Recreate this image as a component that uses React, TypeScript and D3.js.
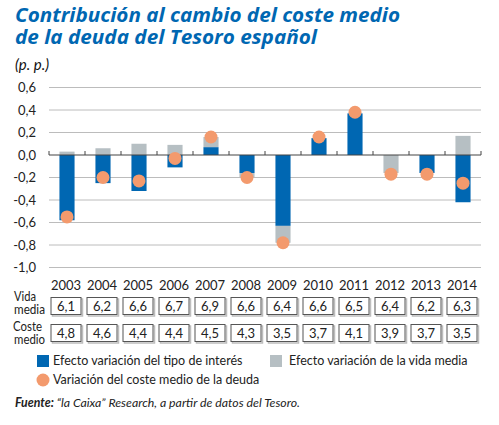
import React from "react";
import * as d3 from "d3";

const years = ["2003","2004","2005","2006","2007","2008","2009","2010","2011","2012","2013","2014"];
const interestEffect = [-0.58, -0.25, -0.32, -0.11, 0.07, -0.16, -0.63, 0.15, 0.37, 0.0, -0.16, -0.42];
const lifeEffect = [0.03, 0.06, 0.10, 0.09, 0.09, -0.04, -0.15, 0.0, 0.0, -0.16, 0.0, 0.17];
const costChange = [-0.55, -0.20, -0.23, -0.03, 0.16, -0.20, -0.78, 0.16, 0.38, -0.17, -0.17, -0.25];
const vidaMedia = ["6,1","6,2","6,6","6,7","6,9","6,6","6,4","6,6","6,5","6,4","6,2","6,3"];
const costeMedio = ["4,8","4,6","4,4","4,4","4,5","4,3","3,5","3,7","4,1","3,9","3,7","3,5"];
const yTicks = [0.6, 0.4, 0.2, 0, -0.2, -0.4, -0.6, -0.8, -1.0];

const BLUE = "#0067b2";
const GRAY = "#b6bfc3";
const ORANGE = "#f39a6d";
const FONT = "Lato, 'Open Sans', sans-serif";

export default function App() {
  const W = 499, H = 425;
  const x = d3.scaleBand<string>().domain(years).range([49, 481]).paddingInner(0.58).paddingOuter(0.29);
  const xb = d3.scaleBand<string>().domain(years).range([49, 481]).padding(0);
  const y = d3.scaleLinear().domain([-1.0, 0.6]).range([267.5, 87.5]);

  const table = years.map((yr, i) => ({ year: yr, interest: interestEffect[i], life: lifeEffect[i] }));
  const stack = d3.stack<any>().keys(["interest", "life"]).offset(d3.stackOffsetDiverging);
  const series = stack(table);
  const colors: Record<string, string> = { interest: BLUE, life: GRAY };
  const fmt = (v: number) => (v === 0 ? "0,0" : d3.format(".1f")(v).replace(".", ",").replace("−", "-"));
  const cx = (yr: string) => (x(yr) as number) + x.bandwidth() / 2;

  return (
    <svg width={W} height={H} style={{ position: "absolute", left: 0, top: 0, background: "#fff" }} fontFamily={FONT}>
      <text x={15} y={22} fill={BLUE} fontWeight="bold" fontStyle="italic" fontSize={19.5} fontFamily="'Open Sans', sans-serif" textLength={385} lengthAdjust="spacingAndGlyphs">Contribución al cambio del coste medio</text>
      <text x={15} y={44} fill={BLUE} fontWeight="bold" fontStyle="italic" fontSize={19.5} fontFamily="'Open Sans', sans-serif" textLength={302} lengthAdjust="spacingAndGlyphs">de la deuda del Tesoro español</text>
      <text x={15} y={70} fill="#111" fontStyle="italic" fontSize={15}>(p. p.)</text>

      {yTicks.map((t) => (
        <g key={t}>
          {t !== 0 && <line x1={49} x2={481} y1={y(t)} y2={y(t)} stroke="#bcbcbc" strokeWidth={1} />}
          <text x={36} y={y(t)} dy="0.35em" textAnchor="end" fontSize={13} fill="#222">{fmt(t)}</text>
        </g>
      ))}

      {series.map((s) => (
        <g key={s.key} fill={colors[s.key]}>
          {s.map((d, i) => {
            const y0 = y(d[0]), y1 = y(d[1]);
            const h = Math.abs(y1 - y0);
            if (h < 0.1) return null;
            return <rect key={i} x={x(years[i])} width={x.bandwidth()} y={Math.min(y0, y1)} height={h} />;
          })}
        </g>
      ))}

      <line x1={49} x2={481} y1={y(0)} y2={y(0)} stroke="#444" strokeWidth={1.2} />
      {years.concat(["end"]).map((yr, i) => {
        const xx = 49 + i * xb.step();
        return <line key={yr} x1={xx} x2={xx} y1={y(0)} y2={y(0) - 4} stroke="#444" strokeWidth={1} />;
      })}

      {costChange.map((v, i) => (
        <circle key={i} cx={cx(years[i])} cy={y(v)} r={6.5} fill={ORANGE} />
      ))}

      {years.map((yr) => (
        <text key={yr} x={cx(yr) - 1} y={290} textAnchor="middle" fontSize={13} fill="#222">{yr}</text>
      ))}

      <text x={14} y={301} fontSize={12.5} fill="#222" textLength={22} lengthAdjust="spacingAndGlyphs">Vida</text>
      <text x={14} y={314} fontSize={12.5} fill="#222" textLength={31} lengthAdjust="spacingAndGlyphs">media</text>
      <text x={13} y={331} fontSize={12.5} fill="#222" textLength={29} lengthAdjust="spacingAndGlyphs">Coste</text>
      <text x={14} y={344} fontSize={12.5} fill="#222" textLength={31} lengthAdjust="spacingAndGlyphs">medio</text>

      {[{ vals: vidaMedia, top: 297.5 }, { vals: costeMedio, top: 324.5 }].map((row, ri) => (
        <g key={ri}>
          {row.vals.map((v, i) => {
            const c = cx(years[i]) - 1;
            return (
              <g key={i}>
                <rect x={c - 15 + 1.5} y={row.top + 1.5} width={30} height={17} fill="none" stroke="#bdbdbd" strokeWidth={1.5} />
                <rect x={c - 15} y={row.top} width={30} height={17} fill="#fff" stroke="#555" strokeWidth={1} />
                <text x={c} y={row.top + 8.5} dy="0.35em" textAnchor="middle" fontSize={13} fill="#222">{v}</text>
              </g>
            );
          })}
        </g>
      ))}

      <rect x={37} y={355} width={12} height={12} fill={BLUE} />
      <text x={53} y={361} dy="0.35em" fontSize={12.5} fill="#222">Efecto variación del tipo de interés</text>
      <rect x={270} y={355} width={12} height={12} fill={GRAY} />
      <text x={289} y={361} dy="0.35em" fontSize={12.5} fill="#222">Efecto variación de la vida media</text>
      <circle cx={43} cy={380} r={6.5} fill={ORANGE} />
      <text x={53} y={380} dy="0.35em" fontSize={12.5} fill="#222">Variación del coste medio de la deuda</text>

      <text x={15} y={403} dy="0.35em" fontSize={12.3} fill="#222" fontStyle="italic" textLength={285} lengthAdjust="spacingAndGlyphs">
        <tspan fontWeight="bold">Fuente:</tspan> “la Caixa” Research, a partir de datos del Tesoro.
      </text>
    </svg>
  );
}
